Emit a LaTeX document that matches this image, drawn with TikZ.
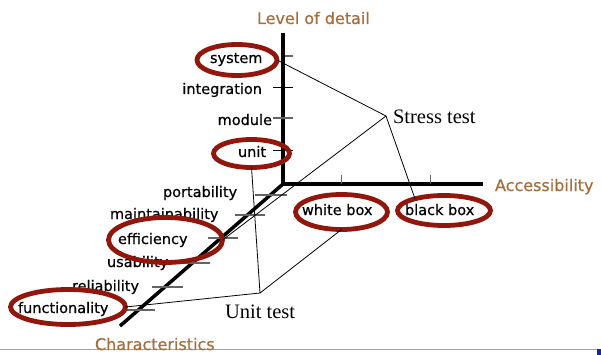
\documentclass[tikz,border=0pt]{standalone}
\usepackage{fontspec}
\usetikzlibrary{shapes.geometric}
\newfontfamily\labfam[FakeBold=0.6]{DejaVu Sans}
\newfontfamily\serfam{Liberation Serif}
\definecolor{axbrown}{RGB}{165,110,60}
\definecolor{ringred}{RGB}{145,22,12}
\definecolor{tickgray}{RGB}{100,100,100}
\definecolor{rulegray}{RGB}{165,165,165}
\definecolor{cornerblue}{RGB}{20,40,150}
\tikzset{
  lab/.style={font=\labfam\fontsize{14.5}{17}\selectfont, inner sep=0pt, outer sep=0pt},
  axlab/.style={font=\labfam\fontsize{16}{19}\selectfont, text=axbrown, inner sep=0pt, outer sep=0pt},
  ser/.style={font=\serfam\fontsize{20.5}{24}\selectfont, inner sep=0pt, outer sep=0pt},
  ring/.style={ellipse, draw=ringred, line width=4.8pt, inner sep=0pt, outer sep=0pt},
  axisline/.style={line width=3.5pt},
  tickline/.style={draw=tickgray, line width=1.2pt},
  conn/.style={line width=0.8pt},
}
\begin{document}
\begin{tikzpicture}[x=1pt,y=-1pt]
\useasboundingbox (0,0) rectangle (601,355);
% slide rule at bottom
\coordinate (rl) at (0,349.5);
\coordinate (rr) at (601,349.5);
\draw[draw=rulegray, line width=1pt] (rl) -- (rr);
\fill[cornerblue] (597,349) rectangle (601,355);
% axes
\coordinate (O) at (283,184);
\coordinate (vtop) at (283,33);
\coordinate (hend) at (483,184);
\coordinate (dend) at (120,326);
\draw[axisline] (vtop) -- (O) -- (hend);
\draw[axisline] (O) -- (dend);
% ticks on vertical axis
\draw[tickline] (285,56) -- (293,56);
\draw[line width=1pt] (273,88) -- (293,88);
\draw[tickline] (273,118) -- (293,118);
\draw[line width=1pt] (273,151) -- (293,151);
% ticks on horizontal axis
\draw[tickline, line width=1pt] (341,175) -- (341,184);
\draw[tickline, line width=1pt] (430,175) -- (430,184);
% ticks on diagonal axis
\draw[tickline] (255,195) -- (287,195);
\draw[tickline] (235,215) -- (265,215);
\draw[tickline] (208,238) -- (238,238);
\draw[tickline] (180,263) -- (210,263);
\draw[tickline] (152,287) -- (183,287);
\draw[tickline] (125,310) -- (155,310);
% labels
\node[lab, anchor=base west] (tsys) at (210,63) {system};
\node[lab, anchor=base east] (tint) at (262,94) {integration};
\node[lab, anchor=base east] (tmod) at (272,125) {module};
\node[lab, anchor=base west] (tunit) at (238,157) {unit};
\node[lab, anchor=base west] (tport) at (163,197) {portability};
\node[lab, anchor=base west] (tmaint) at (110,219) {maintainability};
\node[lab, anchor=base west] (teff) at (118,244) {efficiency};
\node[lab, anchor=base west] (tusa) at (107,267) {usability};
\node[lab, anchor=base west] (trel) at (72,291) {reliability};
\node[lab, anchor=base west] (tfun) at (18,313) {functionality};
\node[lab, anchor=base west] (twb) at (302,215) {white box};
\node[lab, anchor=base west] (tbb) at (405,215) {black box};
\node[axlab, anchor=base west] (tlev) at (257,24) {Level of detail};
\node[axlab, anchor=base west] (tacc) at (495,191) {Accessibility};
\node[axlab, anchor=base west] (tchar) at (95,350) {Characteristics};
\node[ser, anchor=base west] (tstress) at (393,124) {Stress test};
\node[ser, anchor=base west] (tunittest) at (225,318) {Unit test};
% ellipses
\node[ring, minimum width=80pt, minimum height=31pt] (esys) at (237,60) {};
\node[ring, minimum width=76pt, minimum height=28pt] (eunit) at (251.5,153.5) {};
\node[ring, minimum width=114pt, minimum height=45pt] (eeff) at (165.5,240) {};
\node[ring, minimum width=115pt, minimum height=35pt] (efun) at (68,307) {};
\node[ring, minimum width=92pt, minimum height=35pt] (ewb) at (341.5,212) {};
\node[ring, minimum width=93pt, minimum height=30pt] (ebb) at (444,210.5) {};
% connectors
\coordinate (S) at (386,116);
\coordinate (U) at (260,293);
\draw[conn] (esys.east) -- (S) -- (ebb.158);
\draw[conn] (S) -- (eeff.east);
\draw[conn] (eunit.south) -- (U) -- (efun.east);
\draw[conn] (U) -- (ewb.south);
\end{tikzpicture}
\end{document}
